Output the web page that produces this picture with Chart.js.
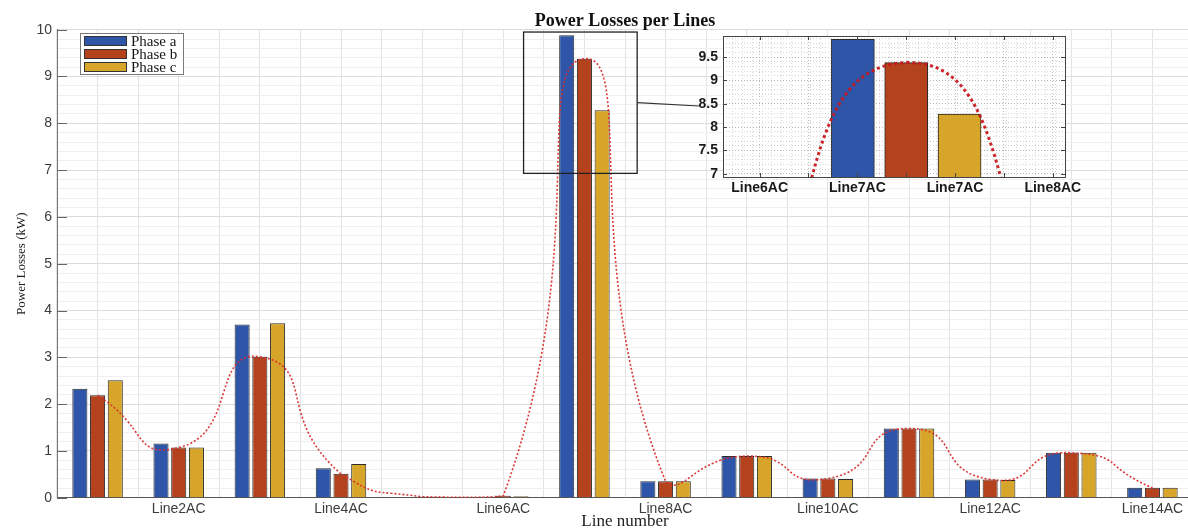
<!DOCTYPE html>
<html><head><meta charset="utf-8">
<script src="https://cdn.jsdelivr.net/npm/chart.js@4.4.1/dist/chart.umd.min.js"></script>
<style>
html,body{margin:0;padding:0;overflow:hidden;background:#fff;width:1188px;height:529px}
#wrap{position:relative;width:1200px;height:529px}
#main{position:absolute;left:0;top:0}
#inset{position:absolute;left:680px;top:25px}
</style></head><body>
<div id="wrap">
<canvas id="main" width="1200" height="529"></canvas>
<canvas id="inset" width="420" height="175"></canvas>
</div>
<script>
// ---- data ----
const categories = ['Line1AC','Line2AC','Line3AC','Line4AC','Line5AC','Line6AC','Line7AC','Line8AC','Line9AC','Line10AC','Line11AC','Line12AC','Line13AC','Line14AC'];
const xTickLabels = ['','Line2AC','','Line4AC','','Line6AC','','Line8AC','','Line10AC','','Line12AC','','Line14AC'];
const seriesNames = ['Phase a','Phase b','Phase c'];
const phaseA = [2.33,1.16,3.70,0.63,0.01,0.02,9.88,0.35,0.89,0.41,1.48,0.39,0.96,0.21];
const phaseB = [2.19,1.07,3.01,0.51,0.02,0.04,9.38,0.35,0.89,0.41,1.48,0.39,0.96,0.21];
const phaseC = [2.51,1.07,3.73,0.72,0.02,0.03,8.28,0.35,0.89,0.40,1.48,0.38,0.96,0.21];
const insetCategory = 7;               // zoomed group (1-based)
const insetXRange = [6.25, 7.65];      // in line-number units
const insetYRange = [6.93, 9.95];
const insetXTicks = [6.4, 6.6, 6.8, 7.0, 7.2, 7.4, 7.6];
const insetTickLabels = ['Line6AC','','Line7AC','','Line7AC','','Line8AC'];

// ---- styles ----
const colors = ['#2E55A8','#B3421D','#D6A52A'];
const barEdge = '#2b2b2b';
const catPct = 0.655, barPct = 0.85;
const isMult = (v, m) => Math.abs(v / m - Math.round(v / m)) < 1e-6;
Chart.defaults.font.family = "'Liberation Sans', Arial, sans-serif";

const mainExtras = {
  id: 'mainExtras',
  afterDraw(chart) {
    const {ctx, chartArea: a, scales: {x, y}} = chart;
    ctx.save();
    ctx.strokeStyle = '#666'; ctx.lineWidth = 1;
    for (let v = 0; v <= 10; v++) {
      const py = Math.round(y.getPixelForValue(v)) + 0.5;
      ctx.beginPath(); ctx.moveTo(a.left, py); ctx.lineTo(a.left + 10, py); ctx.stroke();
    }
    // zoom rectangle
    const rx1 = x.getPixelForValue(insetXRange[0] - 1), rx2 = x.getPixelForValue(insetXRange[1] - 1);
    const ry1 = y.getPixelForValue(insetYRange[1]), ry2 = y.getPixelForValue(insetYRange[0]);
    ctx.strokeStyle = '#222'; ctx.lineWidth = 1.3;
    ctx.strokeRect(rx1, ry1, rx2 - rx1, ry2 - ry1);
    ctx.lineWidth = 1.2; ctx.strokeStyle = '#333';
    ctx.beginPath(); ctx.moveTo(rx2, (ry1 + ry2) / 2); ctx.lineTo(699, 106); ctx.stroke();
    // legend
    ctx.fillStyle = '#fff'; ctx.fillRect(80, 33, 103, 41);
    ctx.strokeStyle = '#7a7a7a'; ctx.lineWidth = 1; ctx.strokeRect(80.5, 33.5, 103, 41);
    ctx.font = "15px 'Liberation Serif', serif";
    ctx.textBaseline = 'middle'; ctx.textAlign = 'left';
    seriesNames.forEach((n, i) => {
      const yy = 36 + i * 13;
      ctx.fillStyle = colors[i]; ctx.fillRect(84, yy, 43, 10);
      ctx.strokeStyle = '#333'; ctx.strokeRect(84.5, yy + 0.5, 42, 9);
      ctx.fillStyle = '#151515'; ctx.fillText(n, 131, yy + 6);
    });
    ctx.restore();
  }
};

new Chart(document.getElementById('main'), {
  type: 'bar',
  data: {
    labels: categories,
    datasets: [
      {type: 'line', label: 'trend', data: phaseB, borderColor: 'rgba(218,45,45,0.95)', borderWidth: 1.6,
       borderDash: [2, 2], pointRadius: 0, tension: 0.65, fill: false, order: 0},
      {label: seriesNames[0], data: phaseA, backgroundColor: colors[0], borderColor: barEdge, borderWidth: 1, order: 1},
      {label: seriesNames[1], data: phaseB, backgroundColor: colors[1], borderColor: barEdge, borderWidth: 1, order: 1},
      {label: seriesNames[2], data: phaseC, backgroundColor: colors[2], borderColor: barEdge, borderWidth: 1, order: 1}
    ]
  },
  options: {
    responsive: false, animation: false, devicePixelRatio: 1,
    layout: {padding: {left: 0, right: 7, top: 0, bottom: 0}},
    datasets: {bar: {categoryPercentage: catPct, barPercentage: barPct}},
    plugins: {
      legend: {display: false}, tooltip: {enabled: false},
      title: {display: true, fullSize: false, text: 'Power Losses per Lines', color: '#111',
        font: {family: "'Liberation Serif', serif", size: 18, weight: 'bold', lineHeight: 0.9},
        padding: {top: 13.5, bottom: 0}}
    },
    scales: {
      x: {type: 'category', offset: true,
        grid: {offset: false, color: '#e3e3e3', drawTicks: false},
        border: {color: '#555'},
        ticks: {autoSkip: false, maxRotation: 0, padding: 3, color: '#3c3c3c', font: {size: 14},
          callback: (v, i) => xTickLabels[i]},
        title: {display: true, text: 'Line number', color: '#222',
          font: {family: "'Liberation Serif', serif", size: 17, lineHeight: 1}, padding: {top: 0, bottom: -1}},
        afterFit: s => { s.height = 31.3; }},
      x2: {type: 'category', offset: true, position: 'bottom',
        grid: {offset: true, color: '#e3e3e3', drawTicks: false},
        border: {display: false}, ticks: {display: false},
        afterFit: s => { s.height = 0; }},
      y: {min: 0, max: 10,
        ticks: {stepSize: 0.2, maxTicksLimit: 1000, autoSkip: false, padding: 5, color: '#3c3c3c', font: {size: 14},
          callback: v => isMult(v, 1) ? String(Math.round(v)) : ''},
        grid: {drawTicks: false, color: c => isMult(c.tick.value, 1) ? '#dcdcdc' : '#efefef'},
        border: {color: '#777'},
        title: {display: true, text: 'Power Losses (kW)', color: '#222',
          font: {family: "'Liberation Serif', serif", size: 13}, padding: {top: 14.2, bottom: 0}},
        afterFit: s => { s.width = 57; }}
    }
  },
  plugins: [mainExtras]
});

// ---- inset ----
const slot = catPct / 3;
const allSeries = [phaseA, phaseB, phaseC];
const insetExtras = {
  id: 'insetExtras',
  beforeDraw(chart) {
    const {ctx, chartArea: a} = chart;
    ctx.save(); ctx.fillStyle = '#fff'; ctx.fillRect(a.left, a.top, a.right - a.left, a.bottom - a.top); ctx.restore();
  },
  afterDraw(chart) {
    const {ctx, chartArea: a, scales: {x, y}} = chart;
    ctx.save();
    ctx.strokeStyle = '#444'; ctx.lineWidth = 1;
    ctx.strokeRect(Math.round(a.left) + 0.5, Math.round(a.top) + 0.5, Math.round(a.right - a.left), Math.round(a.bottom - a.top));
    x.ticks.forEach(t => {
      const px = Math.round(x.getPixelForValue(t.value)) + 0.5;
      ctx.beginPath(); ctx.moveTo(px, a.top); ctx.lineTo(px, a.top + 4);
      ctx.moveTo(px, a.bottom); ctx.lineTo(px, a.bottom - 4); ctx.stroke();
    });
    y.ticks.forEach(t => {
      if (!isMult(t.value, 0.5)) return;
      const py = Math.round(y.getPixelForValue(t.value)) + 0.5;
      ctx.beginPath(); ctx.moveTo(a.left, py); ctx.lineTo(a.left + 4, py);
      ctx.moveTo(a.right, py); ctx.lineTo(a.right - 4, py); ctx.stroke();
    });
    ctx.restore();
  }
};
const noPad = s => { s.paddingLeft = 0; s.paddingRight = 0; s.paddingTop = 0; s.paddingBottom = 0; };

new Chart(document.getElementById('inset'), {
  type: 'bar',
  data: {
    datasets: [
      {type: 'line', label: 'trend', data: phaseB.map((v, i) => ({x: i + 1, y: v})),
       borderColor: 'rgba(200,24,30,0.95)', borderWidth: 3, borderDash: [3, 3], pointRadius: 0, tension: 0.55, order: 0},
      ...[0, 1, 2].map(j => ({
        label: seriesNames[j],
        data: [{x: insetCategory + (j - 1) * slot, y: allSeries[j][insetCategory - 1]}],
        backgroundColor: colors[j], borderColor: barEdge, borderWidth: 1,
        grouped: false, barThickness: 43, order: 1
      }))
    ]
  },
  options: {
    responsive: false, animation: false, devicePixelRatio: 1,
    layout: {padding: {left: 0, right: 35, top: 11, bottom: 0}},
    plugins: {legend: {display: false}, tooltip: {enabled: false}},
    scales: {
      x: {type: 'linear', min: insetXRange[0], max: insetXRange[1], offset: false,
        afterBuildTicks: s => { s.ticks = insetXTicks.map(v => ({value: v})); },
        ticks: {autoSkip: false, maxRotation: 0, padding: 3, color: '#1a1a1a',
          font: {size: 14, weight: 'bold'}, callback: (v, i) => insetTickLabels[i] ?? ''},
        grid: {offset: false, drawTicks: false, color: '#bdbdbd'},
        border: {display: false, dash: [1, 2]},
        afterFit: s => { s.height = 23; noPad(s); }},
      xm: {type: 'linear', min: insetXRange[0], max: insetXRange[1], offset: false, position: 'bottom',
        ticks: {display: false, stepSize: 0.04, includeBounds: false, autoSkip: false, maxTicksLimit: 1000},
        grid: {offset: false, drawTicks: false, color: '#dadada'},
        border: {display: false, dash: [1, 2]},
        afterFit: s => { s.height = 0; noPad(s); }},
      y: {type: 'linear', min: insetYRange[0], max: insetYRange[1],
        ticks: {stepSize: 0.1, includeBounds: false, autoSkip: false, maxTicksLimit: 1000, padding: 5, color: '#1a1a1a',
          font: {size: 14, weight: 'bold'}, callback: v => isMult(v, 0.5) ? String(v) : ''},
        grid: {drawTicks: false, color: c => isMult(c.tick.value, 0.5) ? '#b5b5b5' : '#d6d6d6'},
        border: {display: false, dash: [1, 2]},
        afterFit: s => { s.width = 43; noPad(s); }}
    }
  },
  plugins: [insetExtras]
});
</script>
</body></html>
